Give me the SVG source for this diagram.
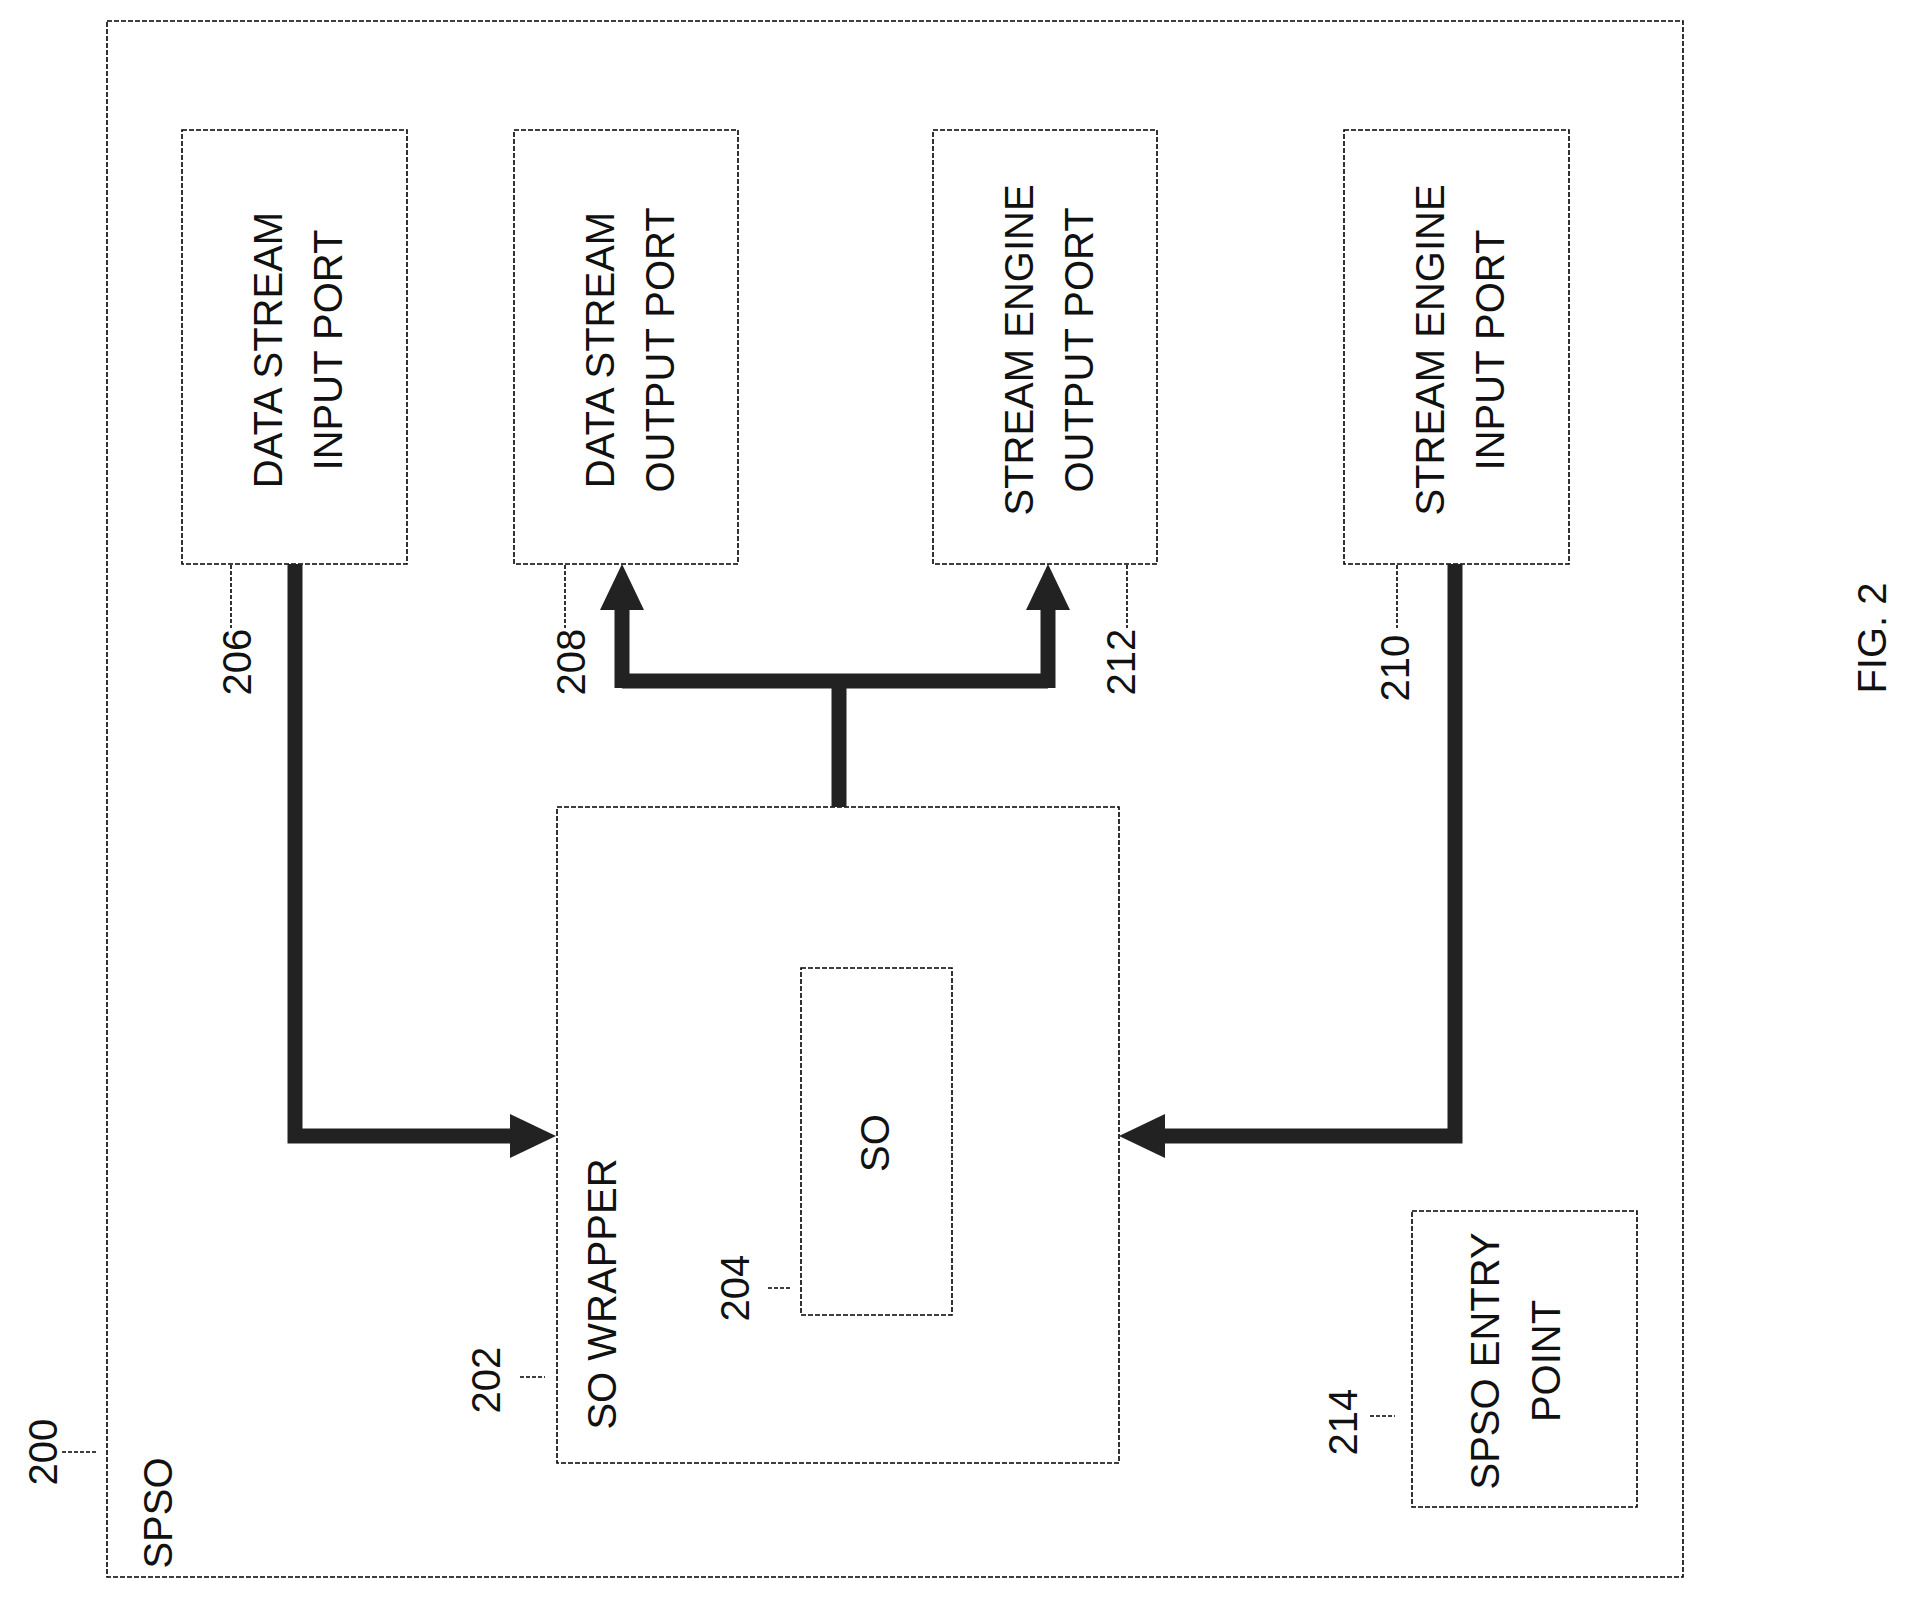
<svg xmlns="http://www.w3.org/2000/svg" width="1906" height="1597" viewBox="0 0 1906 1597">
<style>
.box{fill:none;stroke:#000;stroke-width:1.6;stroke-dasharray:5 2}
.t{font-family:"Liberation Sans",Arial,sans-serif;font-size:40px;fill:#111;text-anchor:middle;dominant-baseline:central}
.w{fill:none;stroke:#222;stroke-width:15}
.a{fill:#222}
.l{stroke:#000;stroke-width:1.6;stroke-dasharray:4 2;fill:none}
</style>
<rect width="1906" height="1597" fill="#fff"/>
<g id="spso"><rect class="box" x="107" y="21" width="1576" height="1556"/>
<text class="t" transform="translate(158,1513) rotate(-90)">SPSO</text>
<text class="t" transform="translate(43,1452) rotate(-90)">200</text><path class="l" d="M62,1452 H98"/></g>
<g id="n206"><rect class="box" x="182" y="130" width="225" height="434"/>
<text class="t" transform="translate(268,350) rotate(-90)">DATA STREAM</text>
<text class="t" transform="translate(328,350) rotate(-90)">INPUT PORT</text>
<text class="t" transform="translate(237,662) rotate(-90)">206</text><path class="l" d="M231,565 V628"/></g>
<g id="n208"><rect class="box" x="514" y="130" width="224" height="434"/>
<text class="t" transform="translate(600,350) rotate(-90)">DATA STREAM</text>
<text class="t" transform="translate(660,350) rotate(-90)">OUTPUT PORT</text>
<text class="t" transform="translate(571,662) rotate(-90)">208</text><path class="l" d="M565,565 V628"/></g>
<g id="n212"><rect class="box" x="933" y="130" width="224" height="434"/>
<text class="t" transform="translate(1019,350) rotate(-90)">STREAM ENGINE</text>
<text class="t" transform="translate(1079,350) rotate(-90)">OUTPUT PORT</text>
<text class="t" transform="translate(1121,662) rotate(-90)">212</text><path class="l" d="M1127,565 V628"/></g>
<g id="n210"><rect class="box" x="1344" y="130" width="225" height="434"/>
<text class="t" transform="translate(1430,350) rotate(-90)">STREAM ENGINE</text>
<text class="t" transform="translate(1490,350) rotate(-90)">INPUT PORT</text>
<text class="t" transform="translate(1395,668) rotate(-90)">210</text><path class="l" d="M1397,565 V628"/></g>
<g id="n202"><rect class="box" x="557" y="807" width="562" height="656"/>
<text class="t" transform="translate(602,1294) rotate(-90)">SO WRAPPER</text>
<text class="t" transform="translate(486,1380) rotate(-90)">202</text><path class="l" d="M520,1377 H545"/></g>
<g id="n204"><rect class="box" x="801" y="968" width="151" height="347"/>
<text class="t" transform="translate(875,1143) rotate(-90)">SO</text>
<text class="t" transform="translate(735,1288) rotate(-90)">204</text><path class="l" d="M768,1288 H790"/></g>
<g id="n214"><rect class="box" x="1412" y="1211" width="225" height="296"/>
<text class="t" transform="translate(1485,1361) rotate(-90)">SPSO ENTRY</text>
<text class="t" transform="translate(1546,1361) rotate(-90)">POINT</text>
<text class="t" transform="translate(1343,1422) rotate(-90)">214</text><path class="l" d="M1370,1416 H1395"/></g>
<g id="connectors">
<path class="w" d="M295,564 V1136 H512"/><path class="a" d="M556,1136 L510,1114 L510,1158 Z"/>
<path class="w" d="M1455,564 V1136 H1164"/><path class="a" d="M1119,1136 L1165,1114 L1165,1158 Z"/>
<path class="w" d="M839,807 V681 M622,681 H1048 M622,688 V608 M1048,688 V608"/>
<path class="a" d="M622,564 L600,610 L644,610 Z"/><path class="a" d="M1048,564 L1026,610 L1070,610 Z"/>
</g>
<text class="t" transform="translate(1872,638) rotate(-90)">FIG. 2</text>
</svg>
